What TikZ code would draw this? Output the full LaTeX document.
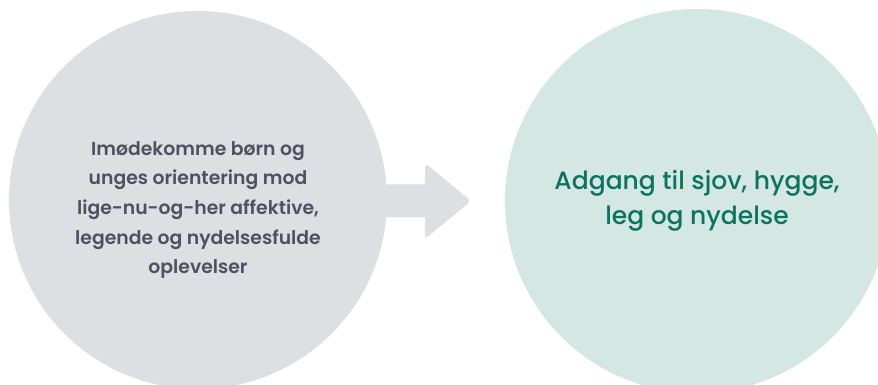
\documentclass[tikz,border=0pt]{standalone}
\usepackage{fontspec}
\setmainfont{Poppins}
\newfontfamily\semifont{Poppins SemiBold}
\newfontfamily\medfont{Poppins Medium}
\definecolor{greyfill}{HTML}{DEDFE3}
\definecolor{mintfill}{HTML}{D5E7E3}
\definecolor{greytext}{HTML}{505062}
\definecolor{greentext}{HTML}{0B7461}
\def\picframe{(0,0) rectangle (878,385)}
\tikzset{
	bubble/.style={circle, inner sep=0pt, align=center},
}

\begin{document}
\begin{tikzpicture}[x=1pt, y=1pt]
	\useasboundingbox \picframe;
	\clip \picframe;

	\node[bubble, fill=greyfill, minimum size=378pt] (needs) at (198,185) {};
	\node[align=center, text=greytext, font=\semifont\fontsize{18.8}{29.7}\selectfont]
		(needs text) at ([yshift=-10pt]needs.center)
		{Imødekomme børn og\\unges orientering mod\\lige-nu-og-her affektive,\\legende og nydelsesfulde\\oplevelser};
	\node[bubble, fill=mintfill, minimum size=384pt, text=greentext,
		font=\medfont\fontsize{25}{35}\selectfont] (access) at (697,184)
		{Adgang til sjov, hygge,\\leg og nydelse};

	\coordinate (tail) at (365,184);
	\coordinate (tip) at (471,184);
	\fill[greyfill] (tail) ++(0,16.5) -- (425,200.5)
		[rounded corners=4pt] -- (425,222) -- (tip) -- (425,146)
		[sharp corners] -- (425,167.5) -- ([yshift=-16.5pt]tail) -- cycle;
\end{tikzpicture}
\end{document}
